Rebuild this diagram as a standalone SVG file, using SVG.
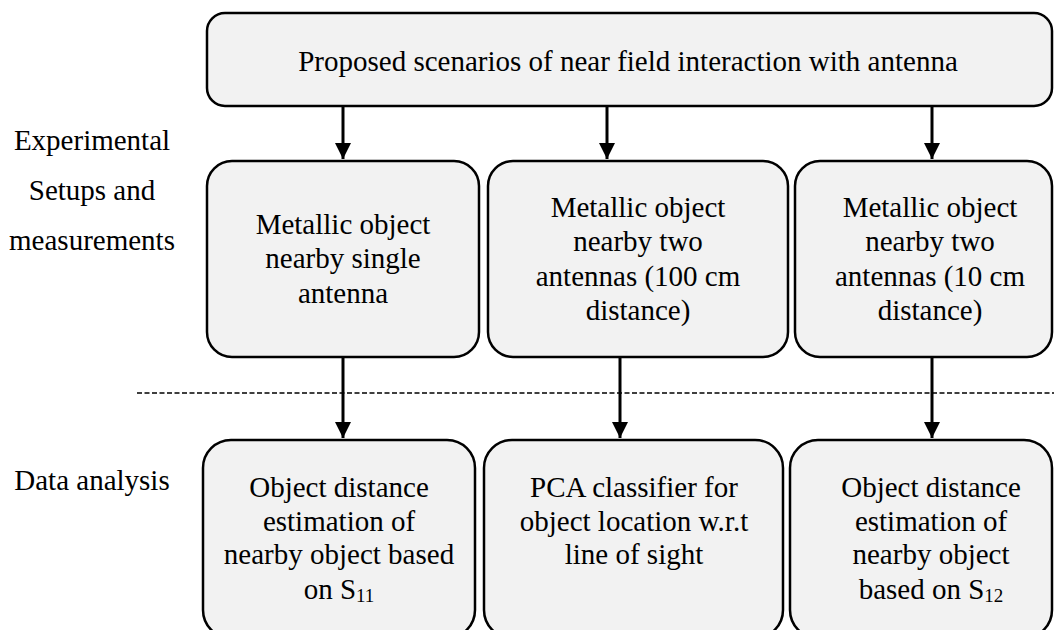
<svg xmlns="http://www.w3.org/2000/svg" width="1054" height="630" viewBox="0 0 1054 630">
<style>
.box{fill:#f2f2f2;stroke:#000;stroke-width:2.5}
.t{font-family:"Liberation Serif","Times New Roman",serif;font-size:29px;fill:#000;text-anchor:middle}
.c{stroke:#000;stroke-width:3;fill:none}
.sub{font-size:19px}
</style>
<defs>
<marker id="ah" viewBox="0 0 10 10" refX="10" refY="5" markerWidth="5.5" markerHeight="5.5" orient="auto" markerUnits="strokeWidth">
<path d="M0,0 L10,5 L0,10 Z" fill="#000"/>
</marker>
</defs>
<rect width="1054" height="630" fill="#fff"/>
<g id="labels">
<text class="t" x="92" y="150">Experimental</text>
<text class="t" x="92" y="200">Setups and</text>
<text class="t" x="92" y="250">measurements</text>
<text class="t" x="92" y="490">Data analysis</text>
</g>
<line x1="137" y1="393" x2="1054" y2="393" stroke="#000" stroke-width="1.3" stroke-dasharray="5 2.5"/>
<g id="top">
<rect class="box" x="207" y="13" width="845" height="93" rx="18"/>
<text class="t" x="628" y="71">Proposed scenarios of near field interaction with antenna</text>
</g>
<g id="m1">
<rect class="box" x="207" y="161" width="272" height="196" rx="25"/>
<text class="t" x="343" y="234">Metallic object</text>
<text class="t" x="343" y="268">nearby single</text>
<text class="t" x="343" y="303">antenna</text>
</g>
<g id="m2">
<rect class="box" x="488" y="161" width="300" height="196" rx="25"/>
<text class="t" x="638" y="217">Metallic object</text>
<text class="t" x="638" y="251">nearby two</text>
<text class="t" x="638" y="286">antennas (100 cm</text>
<text class="t" x="638" y="320">distance)</text>
</g>
<g id="m3">
<rect class="box" x="795" y="161" width="257" height="196" rx="25"/>
<text class="t" x="930" y="217">Metallic object</text>
<text class="t" x="930" y="251">nearby two</text>
<text class="t" x="930" y="286">antennas (10 cm</text>
<text class="t" x="930" y="320">distance)</text>
</g>
<g id="b1">
<rect class="box" x="203" y="440" width="272" height="198" rx="28"/>
<text class="t" x="339" y="497">Object distance</text>
<text class="t" x="339" y="531">estimation of</text>
<text class="t" x="339" y="564">nearby object based</text>
<text class="t" x="339" y="599">on S<tspan class="sub" dy="3">11</tspan></text>
</g>
<g id="b2">
<rect class="box" x="484" y="440" width="299" height="198" rx="28"/>
<text class="t" x="634" y="497">PCA classifier for</text>
<text class="t" x="634" y="531">object location w.r.t</text>
<text class="t" x="634" y="564">line of sight</text>
</g>
<g id="b3">
<rect class="box" x="790" y="440" width="262" height="198" rx="28"/>
<text class="t" x="931" y="497">Object distance</text>
<text class="t" x="931" y="531">estimation of</text>
<text class="t" x="931" y="564">nearby object</text>
<text class="t" x="931" y="599">based on S<tspan class="sub" dy="3">12</tspan></text>
</g>
<g id="connectors">
<line class="c" x1="343" y1="107" x2="343" y2="159" marker-end="url(#ah)"/>
<line class="c" x1="607" y1="107" x2="607" y2="159" marker-end="url(#ah)"/>
<line class="c" x1="932" y1="107" x2="932" y2="159" marker-end="url(#ah)"/>
<line class="c" x1="343" y1="358" x2="343" y2="438" marker-end="url(#ah)"/>
<line class="c" x1="620" y1="358" x2="620" y2="438" marker-end="url(#ah)"/>
<line class="c" x1="932" y1="358" x2="932" y2="438" marker-end="url(#ah)"/>
</g>
</svg>
